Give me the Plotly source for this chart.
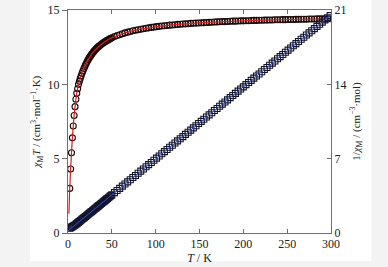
import plotly.graph_objects as go

# Temperature (K)
T = [2, 3, 4, 5, 6, 7, 8, 9, 10, 11, 12, 13, 14, 15, 16, 17, 18, 19, 20,
     21, 22, 23, 24, 25, 26, 27, 28, 29, 30, 31, 32, 33, 34, 35, 36, 37, 38, 39, 40,
     41, 42, 43, 44, 45, 46, 47, 48, 49, 50,
     53, 56, 59, 62, 65, 68, 71, 74, 77, 80, 83, 86, 89, 92, 95, 98, 101, 104, 107, 110,
     113, 116, 119, 122, 125, 128, 131, 134, 137, 140, 143, 146, 149, 152, 155, 158, 161, 164, 167, 170,
     173, 176, 179, 182, 185, 188, 191, 194, 197, 200, 203, 206, 209, 212, 215, 218, 221, 224, 227, 230,
     233, 236, 239, 242, 245, 248, 251, 254, 257, 260, 263, 266, 269, 272, 275, 278, 281, 284, 287, 290,
     293, 296, 299]

# chi_M * T (cm3 mol-1 K)
chiT = [3.0, 4.3, 5.4, 6.4, 7.2, 7.9, 8.5, 9.0, 9.4, 9.7, 10.0, 10.2, 10.4, 10.58, 10.75, 10.9, 11.05, 11.18, 11.31,
        11.43, 11.55, 11.66, 11.76, 11.85, 11.94, 12.03, 12.11, 12.18, 12.25, 12.32, 12.38, 12.44, 12.50, 12.55, 12.60, 12.65, 12.70, 12.74, 12.78,
        12.82, 12.86, 12.90, 12.94, 12.97, 13.00, 13.04, 13.07, 13.10, 13.13,
        13.21, 13.28, 13.34, 13.40, 13.46, 13.51, 13.55, 13.60, 13.64, 13.67, 13.71, 13.74, 13.77, 13.80, 13.83, 13.85, 13.88, 13.90, 13.92, 13.94,
        13.96, 13.98, 13.99, 14.01, 14.03, 14.04, 14.06, 14.07, 14.08, 14.10, 14.11, 14.12, 14.13, 14.14, 14.15, 14.16, 14.17, 14.18, 14.19, 14.20,
        14.21, 14.22, 14.22, 14.23, 14.24, 14.25, 14.25, 14.26, 14.27, 14.27, 14.28, 14.28, 14.29, 14.30, 14.30, 14.31, 14.31, 14.32, 14.32, 14.33,
        14.33, 14.34, 14.34, 14.34, 14.35, 14.35, 14.36, 14.36, 14.36, 14.37, 14.37, 14.38, 14.38, 14.38, 14.39, 14.39, 14.39, 14.40, 14.40, 14.40,
        14.41, 14.41, 14.41]

# 1/chi_M (cm-3 mol)
inv_chi = [0.45, 0.50, 0.55, 0.60, 0.65, 0.70, 0.76, 0.82, 0.88, 0.95, 1.02, 1.08, 1.15, 1.22, 1.29, 1.36, 1.42, 1.49, 1.56,
           1.63, 1.69, 1.76, 1.83, 1.90, 1.97, 2.03, 2.10, 2.17, 2.24, 2.31, 2.37, 2.44, 2.51, 2.58, 2.64, 2.71, 2.78, 2.85, 2.92,
           2.98, 3.05, 3.12, 3.19, 3.25, 3.32, 3.39, 3.46, 3.53, 3.59,
           3.80, 4.00, 4.20, 4.41, 4.61, 4.81, 5.02, 5.22, 5.42, 5.63, 5.83, 6.03, 6.24, 6.44, 6.64, 6.85, 7.05, 7.25, 7.46, 7.66,
           7.86, 8.07, 8.27, 8.47, 8.68, 8.88, 9.08, 9.29, 9.49, 9.69, 9.90, 10.10, 10.31, 10.51, 10.71, 10.92, 11.12, 11.32, 11.53, 11.73,
           11.93, 12.14, 12.34, 12.54, 12.75, 12.95, 13.15, 13.36, 13.56, 13.76, 13.97, 14.17, 14.37, 14.58, 14.78, 14.98, 15.19, 15.39, 15.59, 15.80,
           16.00, 16.20, 16.41, 16.61, 16.81, 17.02, 17.22, 17.42, 17.63, 17.83, 18.03, 18.24, 18.44, 18.64, 18.85, 19.05, 19.25, 19.46, 19.66, 19.86,
           20.07, 20.27, 20.47]

# fitted curves
fit_T = [1, 1.5, 2, 3, 4, 5, 6, 8, 10, 12, 15, 20, 25, 30, 40, 50, 70, 100, 150, 200, 250, 300]
fit_chiT = [1.3, 2.2, 3.0, 4.3, 5.4, 6.4, 7.2, 8.5, 9.4, 10.0, 10.6, 11.31, 11.85, 12.25, 12.78, 13.13, 13.55, 13.87, 14.13, 14.27, 14.36, 14.41]
fit_inv_T = [0, 300]
fit_inv = [0.2, 20.54]

fig = go.Figure()
fig.add_trace(go.Scatter(x=T, y=inv_chi, mode="markers", yaxis="y2",
                         marker=dict(symbol="square-open", size=6, color="#15152e",
                                     line=dict(width=1.1)), showlegend=False))
fig.add_trace(go.Scatter(x=fit_inv_T, y=fit_inv, mode="lines", yaxis="y2",
                         line=dict(color="#3050c0", width=1), showlegend=False))
fig.add_trace(go.Scatter(x=T, y=chiT, mode="markers",
                         marker=dict(symbol="circle-open", size=6, color="#1e0808",
                                     line=dict(width=1.1)), showlegend=False))
fig.add_trace(go.Scatter(x=fit_T, y=fit_chiT, mode="lines", line_shape="spline",
                         line=dict(color="#d02020", width=1.2), showlegend=False))

font = dict(family="Liberation Serif, Times New Roman, serif", size=12, color="#222")
tfont = dict(family="Liberation Serif, Times New Roman, serif", size=11, color="#222")
axcol = "#707070"

fig.update_layout(
    width=388, height=267,
    margin=dict(l=68, r=56.5, t=10, b=34),
    paper_bgcolor="#f3f3f3", plot_bgcolor="white",
    font=font,
    xaxis=dict(range=[0, 300], tickvals=[0, 50, 100, 150, 200, 250, 300],
               ticks="inside", ticklen=4, tickcolor=axcol, showline=True, linecolor=axcol,
               linewidth=1, mirror="ticks", showgrid=False, zeroline=False, automargin=False,
               title=dict(text="<i>T</i> / K", standoff=2, font=font)),
    yaxis=dict(range=[0, 15], tickvals=[0, 5, 10, 15], ticks="outside", ticklen=5,
               tickcolor=axcol, showline=True, linecolor=axcol, linewidth=1,
               showgrid=False, zeroline=False, automargin=False,
               title=dict(text="<i>χ</i><sub>M</sub><i>T</i> / (cm<sup>3</sup>·mol<sup>−1</sup>·K)",
                          standoff=4, font=tfont)),
    yaxis2=dict(range=[0, 21], tickvals=[0, 7, 14, 21], overlaying="y", side="right",
                ticks="inside", ticklen=4, tickcolor=axcol, showline=True, linecolor=axcol,
                linewidth=1, showgrid=False, zeroline=False, automargin=False,
                title=dict(text="1/<i>χ</i><sub>M</sub> / (cm<sup>−3</sup>·mol)",
                           standoff=6, font=tfont)),
    shapes=[dict(type="rect", xref="paper", yref="paper", x0=-0.144, x1=1.154,
                 y0=-0.125, y1=1.05, fillcolor="white", line=dict(width=0), layer="below")],
)

fig.write_html("out.html", config={"displayModeBar": False},
               post_script="document.body.style.margin='0px';")
